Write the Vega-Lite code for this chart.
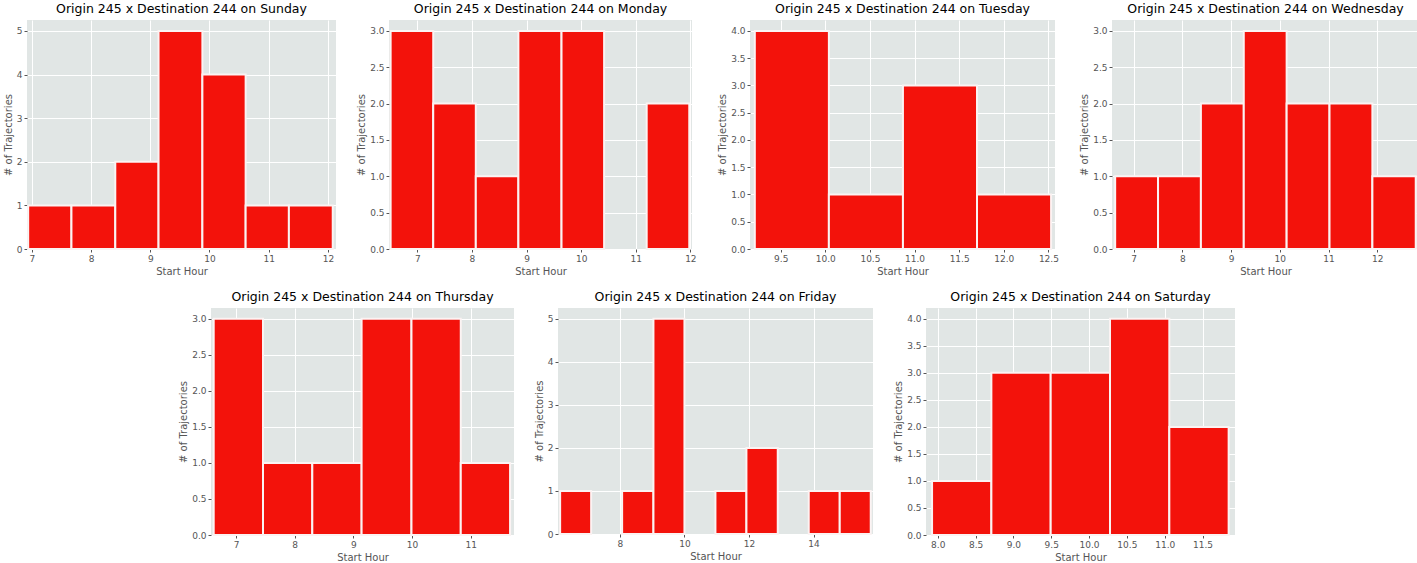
{
  "$schema": "https://vega.github.io/schema/vega-lite/v6.json",
  "background": "white",
  "padding": {"left": 3, "top": 2, "right": 0, "bottom": 0},
  "data": {
    "values": [
      {"day": "Sunday", "start": 6.94, "end": 7.67, "count": 1},
      {"day": "Sunday", "start": 7.67, "end": 8.41, "count": 1},
      {"day": "Sunday", "start": 8.41, "end": 9.14, "count": 2},
      {"day": "Sunday", "start": 9.14, "end": 9.88, "count": 5},
      {"day": "Sunday", "start": 9.88, "end": 10.61, "count": 4},
      {"day": "Sunday", "start": 10.61, "end": 11.34, "count": 1},
      {"day": "Sunday", "start": 11.34, "end": 12.08, "count": 1},
      {"day": "Monday", "start": 6.51, "end": 7.29, "count": 3},
      {"day": "Monday", "start": 7.29, "end": 8.07, "count": 2},
      {"day": "Monday", "start": 8.07, "end": 8.85, "count": 1},
      {"day": "Monday", "start": 8.85, "end": 9.64, "count": 3},
      {"day": "Monday", "start": 9.64, "end": 10.42, "count": 3},
      {"day": "Monday", "start": 11.2, "end": 11.98, "count": 2},
      {"day": "Tuesday", "start": 9.21, "end": 10.04, "count": 4},
      {"day": "Tuesday", "start": 10.04, "end": 10.87, "count": 1},
      {"day": "Tuesday", "start": 10.87, "end": 11.7, "count": 3},
      {"day": "Tuesday", "start": 11.7, "end": 12.53, "count": 1},
      {"day": "Wednesday", "start": 6.62, "end": 7.5, "count": 1},
      {"day": "Wednesday", "start": 7.5, "end": 8.38, "count": 1},
      {"day": "Wednesday", "start": 8.38, "end": 9.26, "count": 2},
      {"day": "Wednesday", "start": 9.26, "end": 10.14, "count": 3},
      {"day": "Wednesday", "start": 10.14, "end": 11.02, "count": 2},
      {"day": "Wednesday", "start": 11.02, "end": 11.9, "count": 2},
      {"day": "Wednesday", "start": 11.9, "end": 12.79, "count": 1},
      {"day": "Thursday", "start": 6.62, "end": 7.46, "count": 3},
      {"day": "Thursday", "start": 7.46, "end": 8.3, "count": 1},
      {"day": "Thursday", "start": 8.3, "end": 9.14, "count": 1},
      {"day": "Thursday", "start": 9.14, "end": 9.99, "count": 3},
      {"day": "Thursday", "start": 9.99, "end": 10.83, "count": 3},
      {"day": "Thursday", "start": 10.83, "end": 11.67, "count": 1},
      {"day": "Friday", "start": 6.15, "end": 7.11, "count": 1},
      {"day": "Friday", "start": 8.07, "end": 9.04, "count": 1},
      {"day": "Friday", "start": 9.04, "end": 10.0, "count": 5},
      {"day": "Friday", "start": 10.96, "end": 11.92, "count": 1},
      {"day": "Friday", "start": 11.92, "end": 12.89, "count": 2},
      {"day": "Friday", "start": 13.85, "end": 14.81, "count": 1},
      {"day": "Friday", "start": 14.81, "end": 15.77, "count": 1},
      {"day": "Saturday", "start": 7.925, "end": 8.709, "count": 1},
      {"day": "Saturday", "start": 8.709, "end": 9.493, "count": 3},
      {"day": "Saturday", "start": 9.493, "end": 10.277, "count": 3},
      {"day": "Saturday", "start": 10.277, "end": 11.061, "count": 4},
      {"day": "Saturday", "start": 11.061, "end": 11.845, "count": 2}
    ]
  },
  "spacing": 14,
  "center": true,
  "vconcat": [
    {
      "spacing": 20,
      "hconcat": [
        {
          "title": "Origin 245 x Destination 244 on Sunday",
          "width": 309, "height": 229,
          "transform": [{"filter": "datum.day === 'Sunday'"}],
          "mark": {"type": "bar", "color": "#F3120B", "stroke": "#FBF3F3", "strokeWidth": 2},
          "encoding": {
            "x": {"field": "start", "type": "quantitative", "scale": {"domain": [6.92, 12.135], "nice": false, "zero": false}, "axis": {"values": [7, 8, 9, 10, 11, 12], "format": "d", "title": "Start Hour"}},
            "x2": {"field": "end"},
            "y": {"field": "count", "type": "quantitative", "scale": {"domain": [0, 5.25], "nice": false}, "axis": {"values": [0, 1, 2, 3, 4, 5], "format": "d", "title": "# of Trajectories"}},
            "y2": {"datum": 0}
          }
        },
        {
          "title": "Origin 245 x Destination 244 on Monday",
          "width": 303, "height": 229,
          "transform": [{"filter": "datum.day === 'Monday'"}],
          "mark": {"type": "bar", "color": "#F3120B", "stroke": "#FBF3F3", "strokeWidth": 2},
          "encoding": {
            "x": {"field": "start", "type": "quantitative", "scale": {"domain": [6.48, 12.03], "nice": false, "zero": false}, "axis": {"values": [7, 8, 9, 10, 11, 12], "format": "d", "title": "Start Hour"}},
            "x2": {"field": "end"},
            "y": {"field": "count", "type": "quantitative", "scale": {"domain": [0, 3.15], "nice": false}, "axis": {"values": [0, 0.5, 1, 1.5, 2, 2.5, 3], "format": ".1f", "title": "# of Trajectories"}},
            "y2": {"datum": 0}
          }
        },
        {
          "title": "Origin 245 x Destination 244 on Tuesday",
          "width": 305, "height": 229,
          "transform": [{"filter": "datum.day === 'Tuesday'"}],
          "mark": {"type": "bar", "color": "#F3120B", "stroke": "#FBF3F3", "strokeWidth": 2},
          "encoding": {
            "x": {"field": "start", "type": "quantitative", "scale": {"domain": [9.156, 12.574], "nice": false, "zero": false}, "axis": {"values": [9.5, 10, 10.5, 11, 11.5, 12, 12.5], "format": ".1f", "title": "Start Hour"}},
            "x2": {"field": "end"},
            "y": {"field": "count", "type": "quantitative", "scale": {"domain": [0, 4.2], "nice": false}, "axis": {"values": [0, 0.5, 1, 1.5, 2, 2.5, 3, 3.5, 4], "format": ".1f", "title": "# of Trajectories"}},
            "y2": {"datum": 0}
          }
        },
        {
          "title": "Origin 245 x Destination 244 on Wednesday",
          "width": 307, "height": 229,
          "transform": [{"filter": "datum.day === 'Wednesday'"}],
          "mark": {"type": "bar", "color": "#F3120B", "stroke": "#FBF3F3", "strokeWidth": 2},
          "encoding": {
            "x": {"field": "start", "type": "quantitative", "scale": {"domain": [6.555, 12.857], "nice": false, "zero": false}, "axis": {"values": [7, 8, 9, 10, 11, 12], "format": "d", "title": "Start Hour"}},
            "x2": {"field": "end"},
            "y": {"field": "count", "type": "quantitative", "scale": {"domain": [0, 3.15], "nice": false}, "axis": {"values": [0, 0.5, 1, 1.5, 2, 2.5, 3], "format": ".1f", "title": "# of Trajectories"}},
            "y2": {"datum": 0}
          }
        }
      ]
    },
    {
      "spacing": 20,
      "hconcat": [
        {
          "title": "Origin 245 x Destination 244 on Thursday",
          "width": 303, "height": 227,
          "transform": [{"filter": "datum.day === 'Thursday'"}],
          "mark": {"type": "bar", "color": "#F3120B", "stroke": "#FBF3F3", "strokeWidth": 2},
          "encoding": {
            "x": {"field": "start", "type": "quantitative", "scale": {"domain": [6.574, 11.737], "nice": false, "zero": false}, "axis": {"values": [7, 8, 9, 10, 11], "format": "d", "title": "Start Hour"}},
            "x2": {"field": "end"},
            "y": {"field": "count", "type": "quantitative", "scale": {"domain": [0, 3.15], "nice": false}, "axis": {"values": [0, 0.5, 1, 1.5, 2, 2.5, 3], "format": ".1f", "title": "# of Trajectories"}},
            "y2": {"datum": 0}
          }
        },
        {
          "title": "Origin 245 x Destination 244 on Friday",
          "width": 315, "height": 226,
          "transform": [{"filter": "datum.day === 'Friday'"}],
          "mark": {"type": "bar", "color": "#F3120B", "stroke": "#FBF3F3", "strokeWidth": 2},
          "encoding": {
            "x": {"field": "start", "type": "quantitative", "scale": {"domain": [6.084, 15.84], "nice": false, "zero": false}, "axis": {"values": [8, 10, 12, 14], "format": "d", "title": "Start Hour"}},
            "x2": {"field": "end"},
            "y": {"field": "count", "type": "quantitative", "scale": {"domain": [0, 5.25], "nice": false}, "axis": {"values": [0, 1, 2, 3, 4, 5], "format": "d", "title": "# of Trajectories"}},
            "y2": {"datum": 0}
          }
        },
        {
          "title": "Origin 245 x Destination 244 on Saturday",
          "width": 309, "height": 227,
          "transform": [{"filter": "datum.day === 'Saturday'"}],
          "mark": {"type": "bar", "color": "#F3120B", "stroke": "#FBF3F3", "strokeWidth": 2},
          "encoding": {
            "x": {"field": "start", "type": "quantitative", "scale": {"domain": [7.845, 11.929], "nice": false, "zero": false}, "axis": {"values": [8, 8.5, 9, 9.5, 10, 10.5, 11, 11.5], "format": ".1f", "title": "Start Hour"}},
            "x2": {"field": "end"},
            "y": {"field": "count", "type": "quantitative", "scale": {"domain": [0, 4.2], "nice": false}, "axis": {"values": [0, 0.5, 1, 1.5, 2, 2.5, 3, 3.5, 4], "format": ".1f", "title": "# of Trajectories"}},
            "y2": {"datum": 0}
          }
        }
      ]
    }
  ],
  "config": {
    "view": {"fill": "#E1E6E5", "stroke": null},
    "axis": {
      "grid": true,
      "gridColor": "white",
      "gridWidth": 1,
      "domain": false,
      "tickColor": "#555555",
      "tickSize": 3,
      "labelColor": "#555555",
      "labelFont": "DejaVu Sans",
      "labelFontSize": 9,
      "labelPadding": 2,
      "titleColor": "#555555",
      "titleFont": "DejaVu Sans",
      "titleFontSize": 10,
      "titleFontWeight": "normal",
      "titlePadding": 3
    },
    "title": {"font": "DejaVu Sans", "fontSize": 12.5, "fontWeight": "normal", "color": "black", "offset": 5}
  }
}
